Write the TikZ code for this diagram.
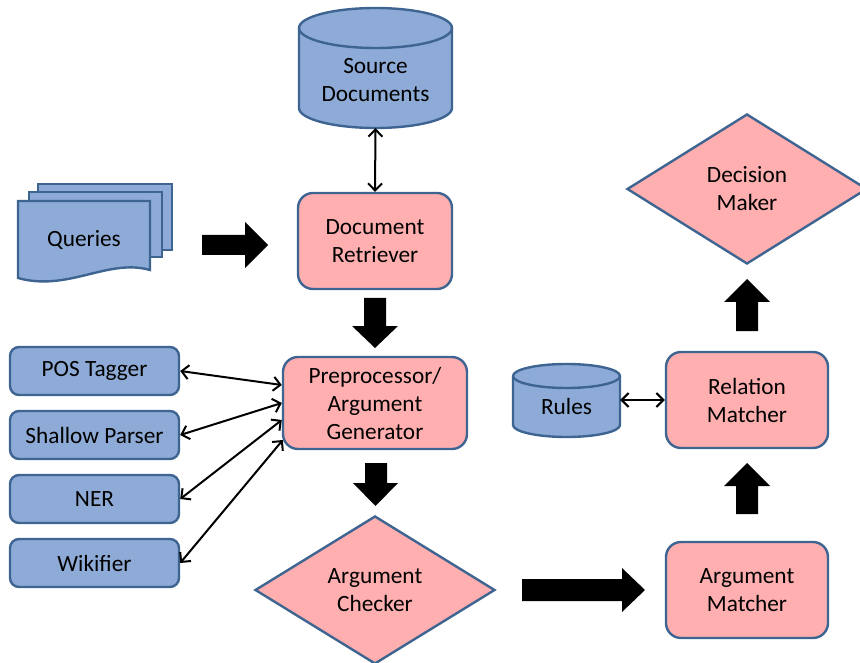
\documentclass[tikz,border=0pt]{standalone}
\usepackage{fontspec}
\setmainfont{Carlito}
\usetikzlibrary{shapes.geometric,arrows.meta,calc}

\definecolor{boxblue}{RGB}{142,170,214}
\definecolor{boxpink}{RGB}{255,175,175}
\definecolor{edgeblue}{RGB}{62,100,146}

\tikzset{
  lbl/.style={font=\fontsize{23.3}{28}\selectfont, align=center, inner sep=0pt},
  procbox/.style={lbl, draw=edgeblue, line width=2.4pt, fill=boxpink, rounded corners=15pt,
                  minimum width=154pt, minimum height=96pt},
  toolbox/.style={lbl, draw=edgeblue, line width=2.4pt, fill=boxblue, rounded corners=9pt,
                  minimum width=169pt, minimum height=48pt},
  decision/.style={lbl, draw=edgeblue, line width=2.4pt, fill=boxpink, diamond, aspect=1.6,
                  minimum width=240pt, minimum height=148pt},
  store/.style={draw=edgeblue, line width=2.4pt, fill=boxblue},
  docpage/.style={draw=edgeblue, line width=2.4pt, fill=boxblue},
  link/.style={line width=2pt, {Straight Barb[length=7pt,width=14pt]}-{Straight Barb[length=7pt,width=14pt]}},
  fatarrow/.style={fill=black}
}

\begin{document}
\begin{tikzpicture}[x=1pt,y=-1pt]
\useasboundingbox (0,0) rectangle (860,663);
\clip (0,0) rectangle (860,663);

% ---- Source Documents (cylinder) ----
\path[store] (299,28) -- (299,108)
  arc[start angle=180,end angle=360,x radius=76.5pt,y radius=20pt]
  -- (452,28)
  arc[start angle=0,end angle=180,x radius=76.5pt,y radius=20pt] -- cycle;
\draw[edgeblue,line width=2.4pt] (299,28)
  arc[start angle=180,end angle=360,x radius=76.5pt,y radius=20pt];
\node[lbl, minimum width=153pt, minimum height=96pt] (src) at (375.5,80) {Source\\Documents};

% ---- Rules (cylinder) ----
\path[store] (513,376) -- (513,425)
  arc[start angle=180,end angle=360,x radius=53.5pt,y radius=12pt]
  -- (620,376)
  arc[start angle=0,end angle=180,x radius=53.5pt,y radius=12pt] -- cycle;
\draw[edgeblue,line width=2.4pt] (513,376)
  arc[start angle=180,end angle=360,x radius=53.5pt,y radius=12pt];
\node[lbl, minimum width=107pt, minimum height=64pt] (rules) at (566.5,406) {Rules};

% ---- Queries (stacked documents) ----
\path[docpage] (38,184) rectangle (172,250);
\path[docpage] (29,192) rectangle (162,257);
\path[docpage] (18,201) -- (150,201) -- (150,270)
  .. controls (108,258) and (68,292) .. (18,278) -- cycle;
\node[lbl] (qry) at (84,240) {Queries};

% ---- Processing boxes ----
\node[procbox] (ret) at (375,241) {Document\\Retriever};
\node[procbox, minimum width=184pt, minimum height=92pt] (pre) at (375,403) {Preprocessor/\\Argument\\Generator};
\node[procbox, minimum width=162pt] (rel) at (747,400) {Relation\\Matcher};
\node[procbox, minimum width=162pt] (am) at (747,590) {Argument\\Matcher};

% ---- Decisions ----
\node[decision] (chk) at (375,590) {Argument\\Checker};
\node[decision, minimum height=150pt] (dec) at (747,189) {Decision\\Maker};

% ---- Linguistic tools ----
\node[toolbox] (pos) at (94.5,371) {POS Tagger};
\node[toolbox] (shp) at (94.5,435) {Shallow Parser};
\node[toolbox] (ner) at (94.5,499) {NER};
\node[toolbox] (wik) at (94.5,563) {Wikifier};

% ---- Two-way links ----
\draw[link] (src.south) -- (ret.north);
\draw[link] (pos.east) -- ($(pre.west)+(0,-18)$);
\draw[link] (shp.east) -- (pre.west);
\draw[link] (ner.east) -- ($(pre.west)+(0,17)$);
\draw[link] (wik.east) -- ($(pre.west)+(1,37)$);
\draw[link] (rules.east |- rel.west) -- (rel.west);

% ---- Flow arrows (block arrows) ----
% Queries -> Document Retriever
\fill[fatarrow] (202,235) -- (245,235) -- (245,222) -- (268,245) -- (245,268) -- (245,255) -- (202,255) -- cycle;
% Document Retriever -> Preprocessor
\fill[fatarrow] (364,298) -- (386,298) -- (386,326) -- (398,326) -- (375,348) -- (352,326) -- (364,326) -- cycle;
% Preprocessor -> Argument Checker
\fill[fatarrow] (365,463) -- (387,463) -- (387,483) -- (398,483) -- (375.5,506) -- (353,483) -- (365,483) -- cycle;
% Argument Checker -> Argument Matcher
\fill[fatarrow] (522,579) -- (622,579) -- (622,568) -- (645,590) -- (622,612) -- (622,601) -- (522,601) -- cycle;
% Argument Matcher -> Relation Matcher
\fill[fatarrow] (736,514) -- (736,486) -- (724,486) -- (747,463) -- (770,486) -- (758,486) -- (758,514) -- cycle;
% Relation Matcher -> Decision Maker
\fill[fatarrow] (736,331) -- (736,302) -- (724,302) -- (747,279) -- (770,302) -- (758,302) -- (758,331) -- cycle;
\end{tikzpicture}
\end{document}
